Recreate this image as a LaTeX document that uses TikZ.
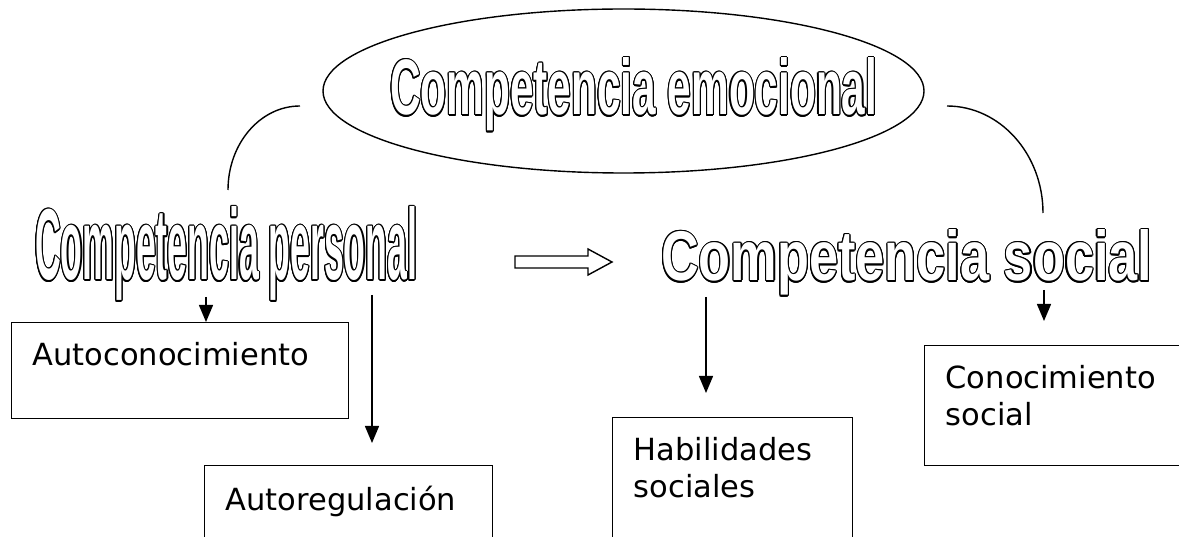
\documentclass[tikz,border=0pt]{standalone}
\usepackage{fontspec}
\setmainfont{DejaVu Sans}
\newfontfamily\ttlfont{Liberation Sans}
\usetikzlibrary{shapes.geometric,arrows.meta,calc}
\tikzset{
  ln/.style={line width=1.4pt},
  arr/.style={ln,-{Triangle[length=17pt,width=14pt]}},
  ttl/.style={inner sep=0pt,anchor=base west},
  bx/.style={draw,line width=1.4pt,anchor=north west,inner xsep=21pt,inner ysep=20pt,
             font=\fontsize{30.5}{37}\selectfont,align=left},
}
\newcommand\boxtxt[3]{\begin{minipage}[t][#2][t]{#1}\raggedright #3\end{minipage}}
\newcommand\otitle[6]{%
  \foreach \a in {0,22.5,...,337.5}
    \node[ttl,text=black] at ([shift={(\a:1.1pt)}]#2,#3) {\resizebox{#4}{#5}{\ttlfont\bfseries #6}};
  \node[ttl,text=white] (#1) at (#2,#3) {\resizebox{#4}{#5}{\ttlfont\bfseries #6}};
}
\begin{document}
\begin{tikzpicture}[x=1pt,y=-1pt]
\useasboundingbox[fill=white] (0,0) rectangle (1179,537);
% ellipse and main title
\node[draw,ln,ellipse,minimum width=601pt,minimum height=164pt,inner sep=0pt] (emo) at (623.5,91) {};
\otitle{emot}{390}{115}{487pt}{57pt}{Competencia emocional}
% sub titles
\otitle{pers}{35}{280}{382pt}{73pt}{Competencia personal}
\otitle{soc}{661}{281}{491pt}{51pt}{Competencia social}
% arcs
\coordinate (la) at (300,106);
\coordinate (lb) at (228,190);
\coordinate (ra) at (947,106);
\coordinate (rb) at (1043,213);
\draw[ln] (la) .. controls (260.2,106) and (228,143.6) .. (lb);
\draw[ln] (ra) .. controls (1000,106) and (1043,154) .. (rb);
% hollow arrow
\coordinate (ha) at (515,262);
\coordinate (hb) at (612,262);
\draw[ln,line join=miter] (ha) ++(0,-6) -- ++(73,0) -- ++(0,-7) -- (hb) -- ++(-24,13) -- ++(0,-7) -- ++(-73,0) -- cycle;
% boxes
\node[bx] (ac) at (11,322) {\boxtxt{295pt}{56pt}{Autoconocimiento}};
\node[bx] (ar) at (204,465) {\boxtxt{246pt}{80pt}{Autoregulación}};
\node[bx] (hs) at (612,417) {\boxtxt{198pt}{110pt}{Habilidades\\sociales}};
\node[bx] (cs) at (924,345) {\boxtxt{280pt}{80pt}{Conocimiento\\social}};
% arrows
\coordinate (s1) at (206,297);
\coordinate (s2) at (372,295);
\coordinate (s3) at (706,297);
\coordinate (s4) at (1044,290);
\draw[arr] (s1) -- (s1 |- ac.north);
\draw[arr] (s2) -- (372,443);
\draw[arr] (s3) -- (706,393);
\draw[arr] (s4) -- (1044,321);
\end{tikzpicture}
\end{document}
